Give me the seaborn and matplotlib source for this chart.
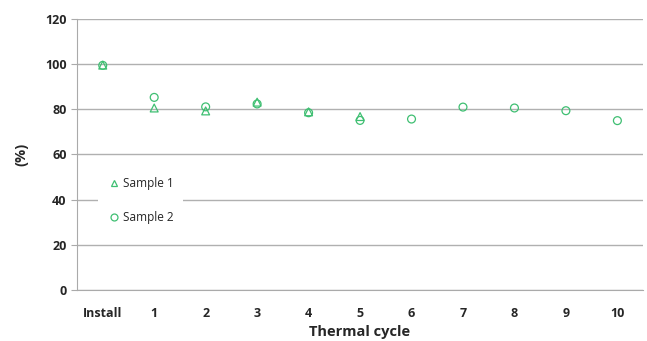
import seaborn as sns
import matplotlib.pyplot as plt
import pandas as pd

# Values
cycles = ['Install', '1', '2', '3', '4', '5', '6', '7', '8', '9', '10']
sample1 = [99.6, 80.6, 79.3, 83.2, 78.9, 76.8]
sample2 = [99.5, 85.3, 81.1, 82.4, 78.5, 75.1, 75.7, 81.0, 80.6, 79.4, 75.0]

green = '#3fbf72'

df = pd.concat([
    pd.DataFrame({'pos': range(len(sample1)), 'val': sample1, 'series': 'Sample 1'}),
    pd.DataFrame({'pos': range(len(sample2)), 'val': sample2, 'series': 'Sample 2'}),
])

sns.set_style('white')
plt.rcParams['font.family'] = ['Open Sans', 'DejaVu Sans']

fig = plt.figure(figsize=(6.47, 3.41), dpi=100)
ax = fig.add_axes([0.119, 0.150, 0.875, 0.794])

sns.scatterplot(data=df, x='pos', y='val', style='series',
                markers={'Sample 1': '^', 'Sample 2': 'o'},
                facecolor='none', edgecolor=green, color=green,
                linewidth=0.9, s=32, ax=ax, legend=False, zorder=3)

ax.set_xlim(-0.5, len(cycles) - 0.5)
ax.set_ylim(0, 120)
ax.set_yticks(range(0, 121, 20))
ax.set_yticklabels([str(v) for v in range(0, 121, 20)], fontweight='bold', fontsize=9)
ax.set_xticks(range(len(cycles)))
ax.set_xticklabels(cycles, fontweight='bold', fontsize=9)
ax.set_xticks([i - 0.5 for i in range(len(cycles) + 1)], minor=True)
ax.tick_params(axis='x', which='major', length=0, pad=12)
ax.tick_params(axis='x', which='minor', length=4, color='#aaaaaa', direction='out')
ax.tick_params(axis='y', length=4, color='#aaaaaa', direction='out', left=True)
ax.grid(axis='y', color='#b0b0b0', linewidth=1)
ax.set_axisbelow(True)

for s in ['top', 'right']:
    ax.spines[s].set_visible(False)
for s in ['left', 'bottom']:
    ax.spines[s].set_color('#aaaaaa')

ax.set_xlabel('Thermal cycle', fontweight='bold', fontsize=10.5, labelpad=4)
ax.set_ylabel('(%)', fontweight='bold', fontsize=10.5, labelpad=12)

# legend
h1 = plt.Line2D([], [], marker='^', linestyle='none', markerfacecolor='none',
                markeredgecolor=green, markersize=5, markeredgewidth=0.9)
h2 = plt.Line2D([], [], marker='o', linestyle='none', markerfacecolor='none',
                markeredgecolor=green, markersize=5, markeredgewidth=0.9)
leg = ax.legend([h1, h2], ['Sample 1', 'Sample 2'], loc='center left',
                bbox_to_anchor=(0.027, 0.33), frameon=True, facecolor='white',
                edgecolor='white', framealpha=1, fontsize=8.5, labelspacing=1.75,
                handletextpad=0.3, handlelength=1.0, borderpad=0.8)
leg.get_frame().set_linewidth(0)

fig.savefig('out.png', dpi=100)
